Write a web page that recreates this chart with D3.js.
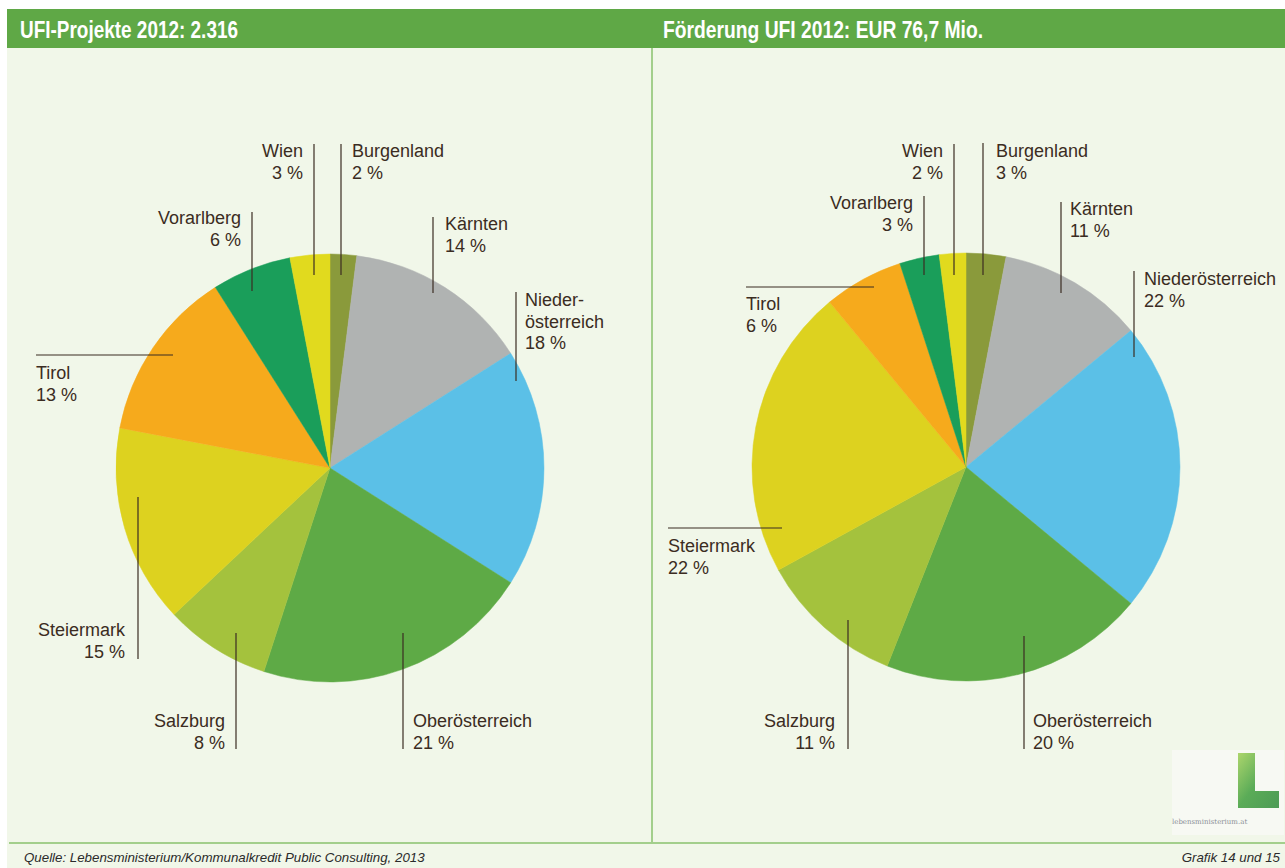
<!DOCTYPE html>
<html>
<head>
<meta charset="utf-8">
<script src="https://cdn.jsdelivr.net/npm/d3@7"></script>
<style>
  body { margin: 0; background: #fff; }
  svg { display: block; }
</style>
</head>
<body>
<div id="canvas"></div>
<script>
// Data
const regions = ['Burgenland', 'Kärnten', 'Niederösterreich', 'Oberösterreich', 'Salzburg',
                 'Steiermark', 'Tirol', 'Vorarlberg', 'Wien'];
const projectShares = [2, 14, 18, 21, 8, 15, 13, 6, 3];
const fundingShares = [3, 11, 22, 20, 11, 22, 6, 3, 2];
const regionColors = ['#8a9a3b', '#b0b3b2', '#5bc0e7', '#5eaa46', '#a4c23d',
                      '#ddd21f', '#f6aa1c', '#1a9e5a', '#e1da1e'];
const titles = ['UFI-Projekte 2012: 2.316', 'Förderung UFI 2012: EUR 76,7 Mio.'];
const source = 'Quelle: Lebensministerium/Kommunalkredit Public Consulting, 2013';
const grafik = 'Grafik 14 und 15';

const w = 1285,
    h = 868,
    radius = 214,
    textColor = '#3b2c22',
    fontSize = 18,
    lineH = 21.5;

// label layout relative to pie centre: text anchor, first baseline, leader line
// v = vertical leader at x from y1 to y2, hz = horizontal leader at y from x1 to x2
const leftLabels = [
  {tx: 22, ty: -311, a: 'start', v: [11, -324, -193]},
  {tx: 115, ty: -238, a: 'start', v: [103, -251, -175]},
  {tx: 195, ty: -162, a: 'start', v: [186, -176, -87], lines: ['Nieder-', 'österreich']},
  {tx: 83, ty: 259, a: 'start', v: [73, 165, 281]},
  {tx: -105, ty: 259, a: 'end', v: [-94, 165, 281]},
  {tx: -205, ty: 168, a: 'end', v: [-192, 29, 191]},
  {tx: -294, ty: -89, a: 'start', hz: [-113, -294, -157]},
  {tx: -89, ty: -244, a: 'end', v: [-78, -256, -177]},
  {tx: -27, ty: -311, a: 'end', v: [-16, -324, -193]}
];
const rightLabels = [
  {tx: 30, ty: -310, a: 'start', v: [17, -324, -192]},
  {tx: 104, ty: -252, a: 'start', v: [95, -265, -174]},
  {tx: 178, ty: -182, a: 'start', v: [168, -196, -110]},
  {tx: 67, ty: 260, a: 'start', v: [58, 169, 282]},
  {tx: -131, ty: 260, a: 'end', v: [-118, 153, 282]},
  {tx: -298, ty: 85, a: 'start', hz: [61, -298, -184]},
  {tx: -220, ty: -157, a: 'start', hz: [-180, -220, -92]},
  {tx: -53, ty: -258, a: 'end', v: [-42, -271, -192]},
  {tx: -23, ty: -310, a: 'end', v: [-12, -323, -192]}
];

const svg = d3.select('#canvas').append('svg')
    .attr('width', w)
    .attr('height', h)
    .style('font-family', "'Liberation Sans', Arial, sans-serif");

// background panel and frame
svg.append('rect').attr('x', 7).attr('y', 9).attr('width', w - 7).attr('height', h - 9)
    .attr('fill', '#f1f7e9');
svg.append('rect').attr('x', 7).attr('y', 9).attr('width', w - 7).attr('height', 39)
    .attr('fill', '#5fa846');
svg.append('line').attr('x1', 652).attr('x2', 652).attr('y1', 48).attr('y2', 843)
    .attr('stroke', '#a3cf8c').attr('stroke-width', 2);
svg.append('line').attr('x1', 9).attr('x2', w).attr('y1', 843).attr('y2', 843)
    .attr('stroke', '#a3cf8c').attr('stroke-width', 2);

// titles
const titleX = [20, 663], titleW = [218, 320];
titles.forEach((t, i) => {
  svg.append('text')
      .attr('x', titleX[i]).attr('y', 38)
      .attr('fill', '#fff')
      .attr('font-weight', 'bold')
      .attr('font-size', 24)
      .attr('textLength', titleW[i])
      .attr('lengthAdjust', 'spacingAndGlyphs')
      .text(t);
});

const pie = d3.pie().sort(null).value(d => d.value);
const arc = d3.arc().innerRadius(0).outerRadius(radius);

function drawPie(cx, cy, values, layout) {
  const data = regions.map((r, i) => ({name: r, value: values[i], color: regionColors[i]}));
  const g = svg.append('g').attr('transform', 'translate(' + cx + ',' + cy + ')');

  g.selectAll('path.slice')
      .data(pie(data))
      .join('path')
      .attr('class', 'slice')
      .attr('d', arc)
      .attr('fill', d => d.data.color)
      .attr('stroke', d => d.data.color)
      .attr('stroke-width', 0.5);

  data.forEach((d, i) => {
    const L = layout[i];
    if (L.v) {
      g.append('line')
          .attr('x1', L.v[0]).attr('x2', L.v[0])
          .attr('y1', L.v[1]).attr('y2', L.v[2])
          .attr('stroke', textColor).attr('stroke-width', 1.2);
    } else {
      g.append('line')
          .attr('x1', L.hz[1]).attr('x2', L.hz[2])
          .attr('y1', L.hz[0]).attr('y2', L.hz[0])
          .attr('stroke', textColor).attr('stroke-width', 1.2);
    }
    const lines = (L.lines || [d.name]).concat([d.value + ' %']);
    const t = g.append('text')
        .attr('fill', textColor)
        .attr('font-size', fontSize)
        .attr('text-anchor', L.a);
    lines.forEach((s, k) => {
      t.append('tspan').attr('x', L.tx).attr('y', L.ty + k * lineH).text(s);
    });
  });
}

drawPie(330, 468, projectShares, leftLabels);
drawPie(966, 467, fundingShares, rightLabels);

// footer
svg.append('text').attr('x', 24).attr('y', 862)
    .attr('font-size', 13.3).attr('font-style', 'italic').attr('fill', '#2b2b2b')
    .text(source);
svg.append('text').attr('x', 1280).attr('y', 862)
    .attr('font-size', 13.3).attr('font-style', 'italic').attr('fill', '#2b2b2b')
    .attr('text-anchor', 'end')
    .text(grafik);

// logo
const logo = svg.append('g');
const grad = svg.append('defs').append('linearGradient')
    .attr('id', 'lg').attr('x1', 0).attr('y1', 0).attr('x2', 1).attr('y2', 1);
grad.append('stop').attr('offset', '0%').attr('stop-color', '#9fcf55');
grad.append('stop').attr('offset', '50%').attr('stop-color', '#3f9e3c');
grad.append('stop').attr('offset', '100%').attr('stop-color', '#2f8a3a');
logo.append('rect').attr('x', 1172).attr('y', 750).attr('width', 112).attr('height', 85)
    .attr('fill', '#f7f9f3');
logo.append('path')
    .attr('d', 'M1238,753 h17 v38 h24 v17 h-41 z')
    .attr('fill', 'url(#lg)').attr('opacity', 0.85);
logo.append('text').attr('x', 1172).attr('y', 824)
    .attr('font-size', 7).attr('fill', '#8a8f96')
    .attr('font-family', "'DejaVu Serif', serif")
    .text('lebensministerium.at');
</script>
</body>
</html>
